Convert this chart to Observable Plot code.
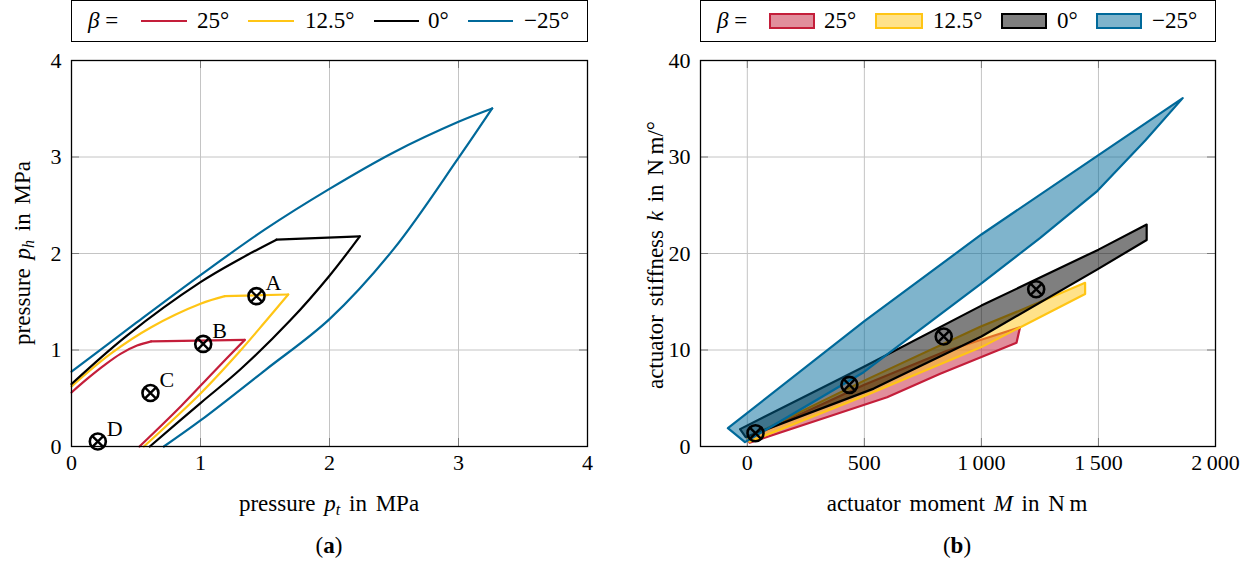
<!DOCTYPE html>
<html><head><meta charset="utf-8">
<script src="https://cdn.jsdelivr.net/npm/d3@7"></script>
<script src="https://cdn.jsdelivr.net/npm/@observablehq/plot@0.6"></script>
<style>
body{margin:0;background:#fff;font-family:"Liberation Serif","Times New Roman",serif;}
#wrap{position:relative;width:1255px;height:562px;overflow:hidden;background:#fff;}
.legend{position:absolute;top:0;height:42px;box-sizing:border-box;border:1.3px solid #000;}
.legend span{position:absolute;}
.legend .txt{font-size:23px;line-height:1;top:8px;white-space:nowrap;}
.legend .ln{height:2.4px;top:18.5px;}
.legend .bx{height:16.5px;top:11.5px;box-sizing:border-box;border:2px solid;}
.t{position:absolute;font-size:23px;line-height:1;white-space:nowrap;word-spacing:3px;}
sub{font-size:0.7em;vertical-align:-0.3em;line-height:0;}
</style></head>
<body><div id="wrap"></div>
<script>
// ---- legend / series ----
const betas = ["25°", "12.5°", "0°", "\u221225°"];
const colors = ["#C41E3A", "#FFC515", "#000000", "#00699A"];

// ---- (a) p_t vs p_h (MPa): [p_t, p_h] ----
const a25_up  = [[0,0.56],[0.121,0.70],[0.25,0.838],[0.38,0.96],[0.508,1.046],[0.618,1.09]];
const a25_top = [[0.618,1.09],[1.343,1.105]];
const a25_low = [[1.343,1.105],[1.10,0.77],[0.85,0.42],[0.527,0]];

const a125_up  = [[0,0.623],[0.302,0.96],[0.618,1.236],[1.0,1.479],[1.189,1.558]];
const a125_top = [[1.189,1.558],[1.68,1.575]];
const a125_low = [[1.68,1.575],[1.5,1.29],[1.3,0.98],[1.0,0.55],[0.561,0]];

const a0_up  = [[0,0.648],[0.43,1.15],[1.0,1.703],[1.31,1.946],[1.589,2.143]];
const a0_top = [[1.589,2.143],[2.235,2.178]];
const a0_low = [[2.235,2.178],[2.0,1.77],[1.698,1.31],[1.31,0.80],[1.0,0.45],[0.607,0]];

const am25_up  = [[0,0.776],[0.5,1.28],[1.0,1.776],[1.5,2.25],[2.0,2.67],[2.5,3.05],[3.0,3.365],[3.261,3.503]];
const am25_low = [[3.261,3.503],[3.0,2.99],[2.5,2.05],[2.0,1.32],[1.5,0.79],[1.0,0.27],[0.716,0]];

const markLabels = ["A", "B", "C", "D"];
const mark_pt = [1.434, 1.021, 0.612, 0.204];
const mark_ph = [1.558, 1.063, 0.554, 0.052];

// ---- (b) actuator moment M (N m) vs stiffness k (N m/°): polygon vertices [M, k] ----
const b25  = [[0,0.8],[500,6.4],[850,9.9],[1165,12.36],[1150,10.75],[824,7.53],[597,5.11],[10,0.4]];
const b125 = [[0,0.9],[497,6.8],[995,12.4],[1165,14.1],[1443,16.96],[1443,15.8],[1000,10.3],[497,5.2],[10,0.5]];
const b0   = [[-31,1.8],[500,8.3],[1000,14.6],[1500,20.4],[1706,23.0],[1706,21.4],[1492,18.3],[1000,11.4],[540,6.0],[-7,0.97]];
const bm25 = [[-83,1.9],[500,13.0],[1000,21.97],[1500,30.2],[1860,36.1],[1700,31.7],[1496,26.5],[1250,21.6],[1000,16.9],[497,7.7],[-10,0.45]];

const markM = [1234, 839, 436, 35];
const markK = [16.3, 11.4, 6.39, 1.38];

// ticks
const aTicks = [0, 1, 2, 3, 4];
const bxTicks = [0, 500, 1000, 1500, 2000];
const byTicks = [0, 10, 20, 30, 40];

// ---- build tables ----
const aSeries = [[betas[0], [a25_up, a25_top, a25_low]], [betas[1], [a125_up, a125_top, a125_low]],
                 [betas[2], [a0_up, a0_top, a0_low]], [betas[3], [am25_up, am25_low]]];
const aRows = [];
aSeries.forEach(([b, segs]) => segs.forEach((s, i) => s.forEach(([x, y]) => aRows.push({beta: b, seg: b + "-" + i, x, y}))));
const aMarks = markLabels.map((l, i) => ({label: l, x: mark_pt[i], y: mark_ph[i]}));

const bSeries = [[betas[0], b25], [betas[1], b125], [betas[2], b0], [betas[3], bm25]];
const bRows = [];
bSeries.forEach(([b, pts]) => pts.forEach(([M, k]) => bRows.push({beta: b, M, k})));
const bMarks = markM.map((m, i) => ({M: m, k: markK[i]}));

const FONT = "'Liberation Serif','Times New Roman',serif";
const H = 466, MT = 10, MB = 70, FH = H - MT - MB;
const grid = "#c4c4c4", tickc = "#7a7a7a";

function frameParts(xt, yt, fmt, fw) {
  return [
    Plot.gridX(xt, {stroke: grid, strokeOpacity: 1, strokeWidth: 1}),
    Plot.gridY(yt, {stroke: grid, strokeOpacity: 1, strokeWidth: 1}),
    Plot.tickX(xt, {x: d => d, insetTop: FH - 8, stroke: tickc, strokeWidth: 1}),
    Plot.tickX(xt, {x: d => d, insetBottom: FH - 8, stroke: tickc, strokeWidth: 1}),
    Plot.tickY(yt, {y: d => d, insetRight: fw - 8, stroke: tickc, strokeWidth: 1}),
    Plot.tickY(yt, {y: d => d, insetLeft: fw - 8, stroke: tickc, strokeWidth: 1}),
    Plot.axisX(xt, {tickSize: 0, tickPadding: 8, tickFormat: fmt, label: null, fontSize: 22}),
    Plot.axisY(yt, {tickSize: 0, tickPadding: 10, tickFormat: d => String(d), label: null, fontSize: 22})
  ];
}

const plotA = Plot.plot({
  width: 627, height: H, marginLeft: 71, marginRight: 40, marginTop: MT, marginBottom: MB,
  style: {fontFamily: FONT, fontSize: "22px", background: "transparent", overflow: "visible"},
  x: {domain: [0, 4], label: null},
  y: {domain: [0, 4], label: null},
  color: {domain: betas, range: colors},
  marks: [
    ...frameParts(aTicks, aTicks, d => String(d), 516),
    Plot.line(aRows, {x: "x", y: "y", z: "seg", stroke: "beta", strokeWidth: 2.2, curve: "catmull-rom"}),
    Plot.frame({stroke: "#000", strokeWidth: 1.3}),
    Plot.dot(aMarks, {x: "x", y: "y", r: 8, stroke: "#000", strokeWidth: 2.6, fill: "none"}),
    Plot.dot(aMarks, {x: "x", y: "y", r: 5.2, symbol: "times", stroke: "#000", strokeWidth: 2.4}),
    Plot.text(aMarks, {x: "x", y: "y", text: "label", dx: 9, dy: -13, textAnchor: "start", fontSize: 22, fill: "#000"})
  ]
});

const plotB = Plot.plot({
  width: 645, height: H, marginLeft: 90, marginRight: 40, marginTop: MT, marginBottom: MB,
  style: {fontFamily: FONT, fontSize: "22px", background: "transparent", overflow: "visible"},
  x: {domain: [-200, 2000], label: null},
  y: {domain: [0, 40], label: null},
  color: {domain: betas, range: colors},
  marks: [
    ...frameParts(bxTicks, byTicks, d => d >= 1000 ? String(d).replace(/(\d)(\d{3})$/, "$1\u2009$2") : String(d), 515),
    Plot.line(bRows, {x: "M", y: "k", z: "beta", fill: "beta", stroke: "beta", fillOpacity: 0.5, strokeWidth: 2.2, curve: "linear-closed"}),
    Plot.frame({stroke: "#000", strokeWidth: 1.3}),
    Plot.dot(bMarks, {x: "M", y: "k", r: 8, stroke: "#000", strokeWidth: 2.6, fill: "none"}),
    Plot.dot(bMarks, {x: "M", y: "k", r: 5.2, symbol: "times", stroke: "#000", strokeWidth: 2.4})
  ]
});

const wrap = document.getElementById("wrap");
plotA.style.position = "absolute"; plotA.style.left = "0px"; plotA.style.top = "50px";
plotB.style.position = "absolute"; plotB.style.left = "610px"; plotB.style.top = "50px";
wrap.appendChild(plotA); wrap.appendChild(plotB);

// legend item positions (absolute page x): [label x, then per item: swatch x0, swatch x1, text x]
function legend(left, width, kind, labX, items) {
  const d = document.createElement("div");
  d.className = "legend";
  d.style.left = left + "px"; d.style.width = width + "px";
  let html = `<span class="txt" style="left:${labX - left}px"><i>β</i> =</span>`;
  betas.forEach((b, i) => {
    const c = colors[i], [s0, s1, tx] = items[i];
    const pos = `left:${s0 - left - 1}px;width:${s1 - s0}px;`;
    html += kind === "line"
      ? `<span class="ln" style="${pos}background:${c}"></span>`
      : `<span class="bx" style="${pos}border-color:${c};background:${d3.color(c).copy({opacity: 0.5})}"></span>`;
    html += `<span class="txt" style="left:${tx - left - 1}px">${b}</span>`;
  });
  d.innerHTML = html;
  wrap.appendChild(d);
}
legend(71, 517, "line", 87, [[141, 187, 197], [248, 294, 305], [374, 419, 428], [468, 513, 524]]);
legend(700, 516, "box", 716, [[769, 815, 824], [875, 923, 933], [1001, 1047, 1057], [1096, 1142, 1152]]);

function text(html, x, y, extra) {
  const d = document.createElement("div");
  d.className = "t"; d.innerHTML = html;
  d.style.left = x + "px"; d.style.top = y + "px";
  d.style.transform = "translate(-50%,-50%)" + (extra || "");
  wrap.appendChild(d);
}
text('pressure <i>p</i><sub><i>t</i></sub> in MPa', 329, 503);
text('actuator moment <i>M</i> in N\u2009m', 957, 503);
text('(<b>a</b>)', 329, 545);
text('(<b>b</b>)', 957, 545);
text('pressure <i>p</i><sub><i>h</i></sub> in MPa', 22, 253, " rotate(-90deg)");
text('actuator stiffness <i>k</i> in N\u2009m/°', 655, 255, " rotate(-90deg)");
</script></body></html>
